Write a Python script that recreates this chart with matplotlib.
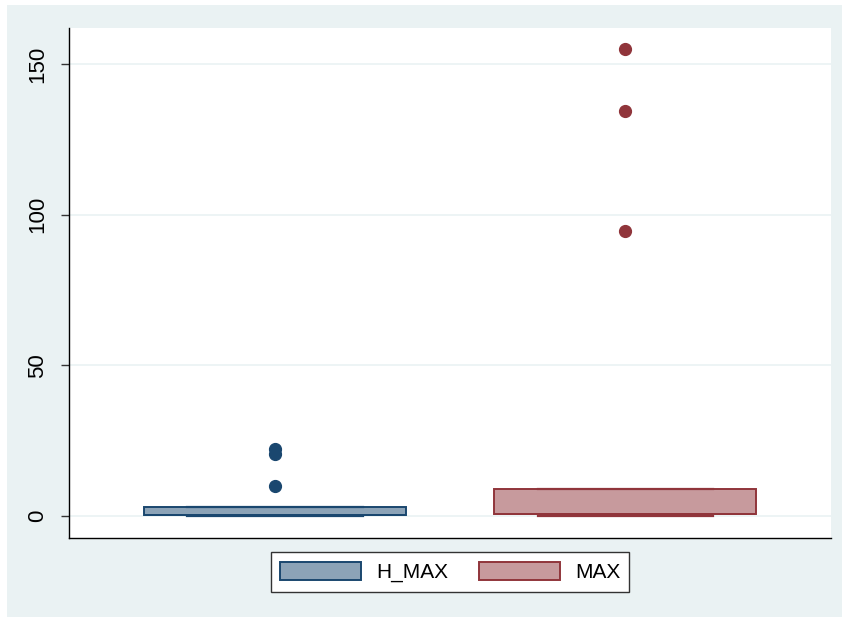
import numpy as np
from matplotlib import pyplot as plt
from matplotlib.patches import Patch, Rectangle

# box plot summary for each variable
labels = ['H_MAX', 'MAX']
q1 = [0.5, 0.6]
q3 = [3.0, 9.0]
medians = [0.5, 0.6]
whisker_low = [0.0, 0.0]
whisker_high = [3.0, 9.0]
outliers = [[10.0, 20.7, 22.1], [94.75, 134.6, 155.1]]

edge_colors = ['#1A476F', '#90353B']
fill_colors = ['#8CA3B7', '#C79A9D']
bg = '#EAF2F3'

plt.rcParams['font.family'] = ['Liberation Sans', 'DejaVu Sans']

fig = plt.figure(figsize=(8.42, 6.17), dpi=100, facecolor=bg)
# thin white frame on the top and left edges
fig.patches.append(Rectangle((0, 1 - 5 / 617), 1, 5 / 617, transform=fig.transFigure,
                             facecolor='white', edgecolor='none', zorder=0))
fig.patches.append(Rectangle((0, 0), 7 / 842, 1, transform=fig.transFigure,
                             facecolor='white', edgecolor='none', zorder=0))

W, H = 842, 617
ax = fig.add_axes([69 / W, 1 - 538 / H, (831 - 69) / W, (538 - 27.5) / H])
ax.set_facecolor('white')

positions = [1, 2]
for i, pos in enumerate(positions):
    stats = [{'med': medians[i], 'q1': q1[i], 'q3': q3[i],
              'whislo': whisker_low[i], 'whishi': whisker_high[i],
              'fliers': outliers[i], 'label': labels[i]}]
    ax.bxp(stats, positions=[pos], widths=0.749, patch_artist=True,
           showfliers=True, capwidths=0.5,
           boxprops=dict(facecolor=fill_colors[i], edgecolor=edge_colors[i], linewidth=1.4),
           medianprops=dict(color=edge_colors[i], linewidth=1.4),
           whiskerprops=dict(color=edge_colors[i], linewidth=1.4),
           capprops=dict(color=edge_colors[i], linewidth=1.6),
           flierprops=dict(marker='o', markersize=8.5, markerfacecolor=edge_colors[i],
                           markeredgecolor=edge_colors[i], linestyle='none'))

ax.set_xlim(1 - 206 / 350, 2 + 206 / 350)
ax.set_ylim(-7.3, 162.2)
ax.set_xticks([])
ax.set_yticks([0, 50, 100, 150])
ax.set_yticklabels(['0', '50', '100', '150'], rotation=90, va='center', fontsize=16)
ax.tick_params(axis='y', length=6, width=1, color='#333333', pad=9)
ax.yaxis.grid(True, color=bg, linewidth=1.2)
ax.set_axisbelow(True)
for side in ['top', 'right']:
    ax.spines[side].set_visible(False)
for side in ['left', 'bottom']:
    ax.spines[side].set_linewidth(1)
    ax.spines[side].set_color('black')

handles = [Patch(facecolor=fill_colors[i], edgecolor=edge_colors[i], linewidth=1.4)
           for i in range(2)]
leg = fig.legend(handles, labels, loc='center', bbox_to_anchor=(450 / W, 1 - 572 / H),
                 bbox_transform=fig.transFigure, ncol=2, fontsize=15,
                 handlelength=3.9, handleheight=1.0, handletextpad=0.7,
                 columnspacing=1.5, borderpad=0.45, fancybox=False, framealpha=1)
leg.get_frame().set_edgecolor('#333333')
leg.get_frame().set_linewidth(1)

fig.savefig('out.png', dpi=100, facecolor=bg)
